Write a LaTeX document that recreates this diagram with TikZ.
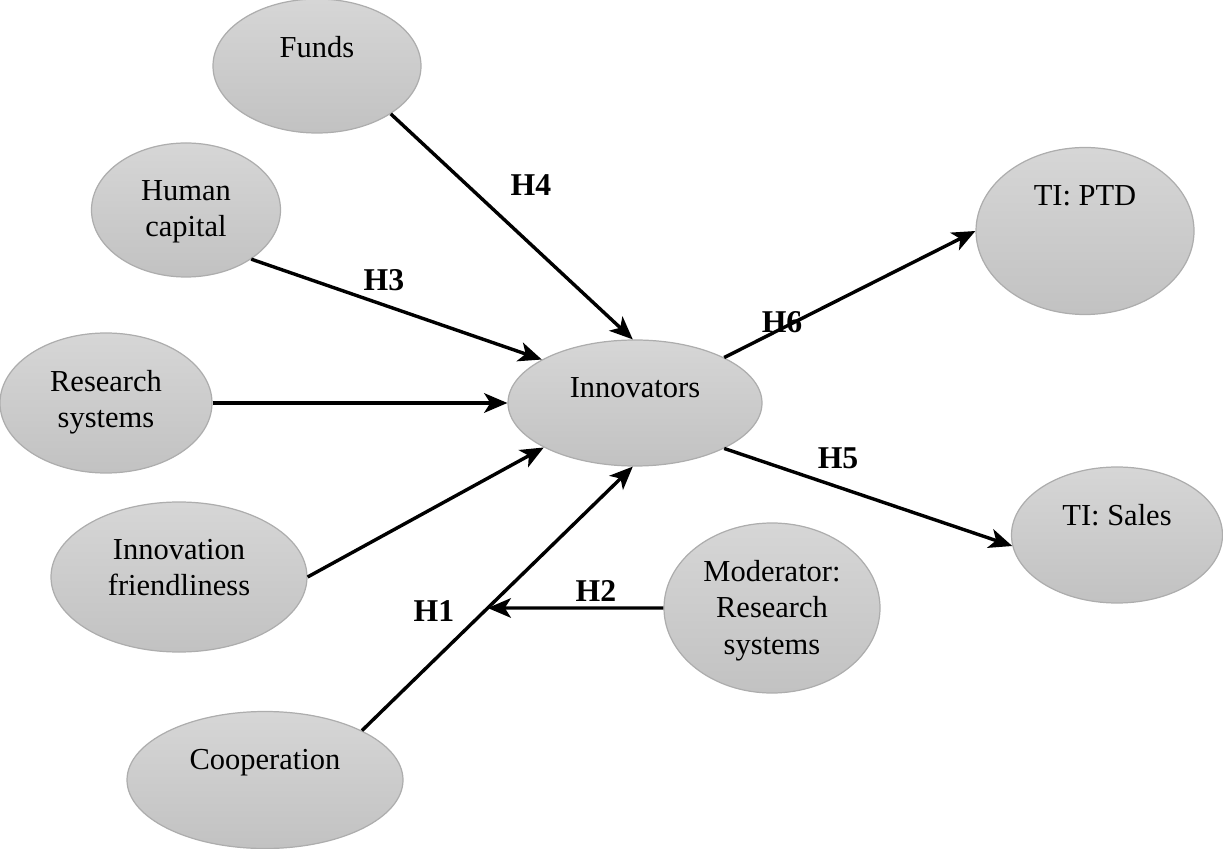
\documentclass[tikz,border=0pt]{standalone}
\usepackage{fontspec}
\setmainfont{Liberation Serif}
\usetikzlibrary{arrows.meta, calc, positioning, shapes.geometric}
\definecolor{blobedge}{gray}{0.68}
\definecolor{blobtop}{gray}{0.84}
\definecolor{blobbottom}{gray}{0.76}

\tikzset{
    blob/.style 2 args={ellipse, draw=blobedge, line width=0.5pt, top color=blobtop,
        bottom color=blobbottom, minimum width=#1*0.41pt, minimum height=#2*0.41pt, inner sep=0pt},
    blobtext/.style={align=center, inner sep=0pt, font=\fontsize{12.5}{14.8}\selectfont},
    hyp/.style={inner sep=0pt, font=\fontsize{13}{15}\selectfont\bfseries},
    link/.style={line width=1.4pt, -{Stealth[length=9.5pt, width=8pt, inset=2.5pt]}}
}

\begin{document}
\begin{tikzpicture}[x=0.41pt, y=-0.41pt]
    \useasboundingbox (0, 0) rectangle (1223, 849);

    % constructs
    \node[blob={208}{134}] (Funds) at (317, 66) {};
    \node[blob={189}{134}] (Human) at (186, 210) {};
    \node[blob={212}{140}] (Research) at (106, 403) {};
    \node[blob={256}{150}] (Friend) at (179, 577) {};
    \node[blob={276}{137}] (Coop) at (265, 780) {};
    \node[blob={254}{126}] (Inno) at (635, 403) {};
    \node[blob={216}{170}] (Mod) at (772, 608) {};
    \node[blob={218}{167}] (PTD) at (1085, 231) {};
    \node[blob={211}{136}] (Sales) at (1117, 535) {};

    \node[blobtext, below=15.5pt of Funds.north] (FundsT) {Funds};
    \node[blobtext, below=15.5pt of Human.north] (HumanT) {Human\\capital};
    \node[blobtext, below=15.5pt of Research.north] (ResearchT) {Research\\systems};
    \node[blobtext, below=15.5pt of Friend.north] (FriendT) {Innovation\\friendliness};
    \node[blobtext, below=15.5pt of Coop.north] (CoopT) {Cooperation};
    \node[blobtext, below=15.5pt of Inno.north] (InnoT) {Innovators};
    \node[blobtext, below=15.5pt of Mod.north] (ModT) {Moderator:\\Research\\systems};
    \node[blobtext, below=15.5pt of PTD.north] (PTDT) {TI: PTD};
    \node[blobtext, below=15.5pt of Sales.north] (SalesT) {TI: Sales};

    % hypotheses
    \draw[link] (Funds.-33) -- (Inno.92);
    \draw[link] (Human.-37) -- (Inno.155);
    \draw[link] (Research.east) -- (Inno.west);
    \draw[link] (Friend.east) -- (Inno.206);
    \coordinate (H1Start) at (Coop.27);
    \coordinate (H1End) at (Inno.-92);
    \draw[link] (H1Start) -- (H1End);
    \coordinate (ModW) at (Mod.west);
    \coordinate (ModFar) at (Mod.west -| Coop.west);
    \coordinate (H2Tip) at (intersection of H1Start--H1End and ModW--ModFar);
    \draw[link] (ModW) -- (H2Tip);
    \draw[link] (Inno.27) -- (PTD.west);
    \draw[link] (Inno.-27) -- (Sales.186);

    \node[hyp] (H4) at (531, 185) {H4};
    \node[hyp] (H3) at (384, 280) {H3};
    \node[hyp] (H6) at (782, 322) {H6};
    \node[hyp] (H5) at (838, 458) {H5};
    \node[hyp] (H2) at (596, 591) {H2};
    \node[hyp] (H1) at (434, 611) {H1};
\end{tikzpicture}
\end{document}
